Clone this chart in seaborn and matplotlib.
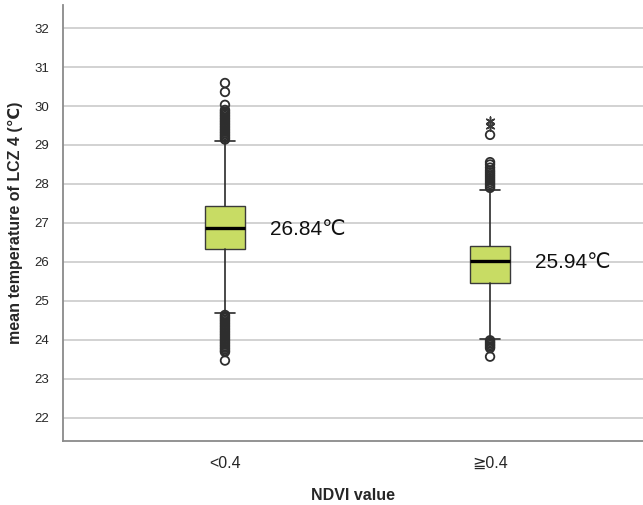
import matplotlib

matplotlib.use("Agg", force=True)
import matplotlib.pyplot as plt
import pandas as pd
import seaborn as sns

# groups on the x axis
CATEGORIES = ["<0.4", "≧0.4"]

# box statistics
Q1 = [26.33, 25.46]
MEDIANS = [26.87, 26.03]
Q3 = [27.44, 26.41]
WHISK_LO = [24.69, 24.03]
WHISK_HI = [29.10, 27.85]
MEAN_LABELS = ["26.84℃", "25.94℃"]

# outliers (circles) and extreme values (asterisks)
OUTLIERS_LOW = [
    [24.64, 24.6, 24.56, 24.52, 24.48, 24.44, 24.4, 24.36, 24.32, 24.28, 24.24, 24.2, 24.16,
     24.12, 24.08, 24.04, 24.0, 23.96, 23.92, 23.88, 23.84, 23.8, 23.76, 23.72, 23.69, 23.47],
    [23.99, 23.95, 23.91, 23.87, 23.83, 23.79, 23.57],
]
OUTLIERS_HIGH = [
    [29.14, 29.18, 29.22, 29.26, 29.3, 29.34, 29.38, 29.42, 29.46, 29.5, 29.54, 29.58, 29.62,
     29.66, 29.7, 29.74, 29.78, 29.82, 29.86, 29.9, 30.03, 30.36, 30.59],
    [27.9, 27.95, 28.0, 28.05, 28.1, 28.15, 28.2, 28.25, 28.3, 28.35, 28.42, 28.5, 28.56, 29.26],
]
EXTREMES = [[], [29.5, 29.62]]


def set_style() -> None:
    sns.set_theme(style="whitegrid")
    plt.rcParams["font.family"] = ["Liberation Sans", "DejaVu Sans", "Noto Sans CJK SC"]
    plt.rcParams["axes.unicode_minus"] = False


def main() -> None:
    set_style()
    fig = plt.figure(figsize=(6.43, 5.05), dpi=100)
    ax = fig.add_axes([0.098, 0.127, 0.902, 0.863])

    stats = []
    for i in range(len(CATEGORIES)):
        stats.append({
            "med": MEDIANS[i], "q1": Q1[i], "q3": Q3[i],
            "whislo": WHISK_LO[i], "whishi": WHISK_HI[i], "fliers": [],
        })
    ax.bxp(
        stats, positions=range(len(CATEGORIES)), widths=0.152, patch_artist=True,
        showfliers=False,
        boxprops=dict(facecolor="#c8dc64", edgecolor="#3a3a3a", linewidth=1.0),
        medianprops=dict(color="black", linewidth=2.4),
        whiskerprops=dict(color="#2a2a2a", linewidth=1.2),
        capprops=dict(color="#2a2a2a", linewidth=1.2),
        capwidths=0.076, zorder=3,
    )

    rows = []
    for i, cat in enumerate(CATEGORIES):
        for v in OUTLIERS_LOW[i] + OUTLIERS_HIGH[i]:
            rows.append({"x": i, "y": v, "kind": "outlier"})
        for v in EXTREMES[i]:
            rows.append({"x": i, "y": v, "kind": "extreme"})
    pts = pd.DataFrame(rows)
    out = pts[pts["kind"] == "outlier"]
    ext = pts[pts["kind"] == "extreme"]
    sns.scatterplot(data=out, x="x", y="y", ax=ax, marker="o", s=38,
                    facecolor="none", edgecolor="#2e2e2e", linewidth=1.3, zorder=4, legend=False)
    sns.scatterplot(data=ext, x="x", y="y", ax=ax, marker=(6, 2, 0), s=40,
                    color="#3a3a3a", linewidth=1.1, zorder=4, legend=False)

    for i, lab in enumerate(MEAN_LABELS):
        ax.text(i + 0.17, MEDIANS[i] - 0.03 * (1 - i) - 0.04 * i, lab, fontsize=15,
                va="center", ha="left", color="#111111", zorder=5)

    ax.set_xlim(-0.611, 1.577)
    ax.set_ylim(21.41, 32.59)
    ax.set_yticks(range(22, 33))
    ax.set_xticks(range(len(CATEGORIES)))
    ax.set_xticklabels(CATEGORIES, fontsize=11.5)
    ax.tick_params(axis="y", labelsize=9.5, pad=4)
    ax.tick_params(axis="x", pad=5)
    ax.grid(axis="y", color="#d2d2d2", linewidth=1.4)
    ax.grid(axis="x", visible=False)
    for side in ["top", "right"]:
        ax.spines[side].set_visible(False)
    for side in ["left", "bottom"]:
        ax.spines[side].set_color("#8a8a8a")
        ax.spines[side].set_linewidth(1.3)
    ax.set_xlabel("NDVI value", fontsize=11.5, weight="bold", labelpad=12)
    ax.set_ylabel("mean temperature of LCZ 4 (℃)", fontsize=11.5, weight="bold", labelpad=8)
    fig.savefig("out.png")
    plt.close(fig)


if __name__ == "__main__":
    main()
